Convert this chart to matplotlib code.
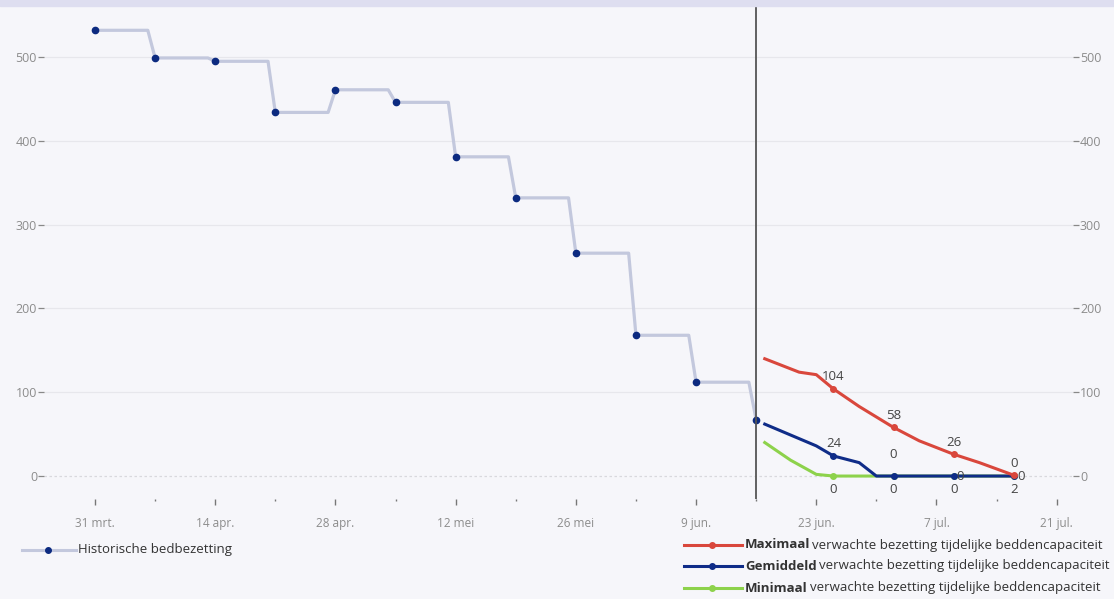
import numpy as np
import matplotlib
matplotlib.use("Agg")
import matplotlib.pyplot as plt
import matplotlib.dates as mdates
from matplotlib.lines import Line2D
from matplotlib.patches import Rectangle
from datetime import datetime, timedelta

# historical occupancy, weekly
hist_dates = ["2020-03-31", "2020-04-07", "2020-04-14", "2020-04-21", "2020-04-28", "2020-05-05",
              "2020-05-12", "2020-05-19", "2020-05-26", "2020-06-02", "2020-06-09", "2020-06-16"]
hist_values = [532, 499, 495, 434, 461, 446, 381, 332, 266, 168, 112, 67]

# forecasts
max_dates = ["2020-06-17", "2020-06-21", "2020-06-23", "2020-06-25", "2020-06-28", "2020-07-02",
             "2020-07-05", "2020-07-09", "2020-07-12", "2020-07-16"]
max_values = [140, 124, 121, 104, 83, 58, 42, 26, 16, 1]
avg_dates = ["2020-06-17", "2020-06-20", "2020-06-23", "2020-06-25", "2020-06-28", "2020-06-30",
             "2020-07-02", "2020-07-09", "2020-07-16"]
avg_values = [62, 49, 36, 24, 16, 0, 0, 0, 0]
min_dates = ["2020-06-17", "2020-06-20", "2020-06-23", "2020-06-25", "2020-07-02", "2020-07-09",
             "2020-07-16"]
min_values = [40, 19, 2, 0, 0, 0, 0]

label_dates = ["2020-06-25", "2020-07-02", "2020-07-09", "2020-07-16"]
max_labels = ["104", "58", "26", "0"]
avg_labels = ["24", "0", "0", "0"]
min_labels = ["0", "0", "0", "2"]

tick_dates = ["2020-03-31", "2020-04-14", "2020-04-28", "2020-05-12", "2020-05-26",
              "2020-06-09", "2020-06-23", "2020-07-07", "2020-07-21"]
tick_labels = ["31 mrt.", "14 apr.", "28 apr.", "12 mei", "26 mei", "9 jun.", "23 jun.", "7 jul.", "21 jul."]
y_ticks = [0, 100, 200, 300, 400, 500]

BG = "#f6f6fa"
HIST = "#c3c8dd"
NAVY = "#0c2a80"
RED = "#d9473c"
BLUE = "#0f2c88"
GREEN = "#8dd24b"
TXT = "#8c8c8c"

plt.rcParams["font.family"] = ["Open Sans", "DejaVu Sans"]


def d(s):
    return mdates.date2num(datetime.strptime(s, "%Y-%m-%d"))


W, H = 1114, 599
fig = plt.figure(figsize=(W / 100, H / 100), dpi=100, facecolor=BG)
fig.patches.append(Rectangle((0, 1 - 6 / H), 1, 6 / H, transform=fig.transFigure,
                             color="#dedef0", zorder=0))
ax = fig.add_axes([44 / W, (H - 499) / H, (1073 - 44) / W, (499 - 6) / H])
ax.set_facecolor(BG)
for sp in ax.spines.values():
    sp.set_visible(False)

base = datetime(2020, 3, 31)
ax.set_xlim(mdates.date2num(base - timedelta(days=5.94)), mdates.date2num(base + timedelta(days=113.9)))
ax.set_ylim(-27.4, 561)

# grid
for v in y_ticks[1:]:
    ax.axhline(v, color="#e7e7ec", lw=0.9, zorder=0)
ax.axhline(0, color="#d8d8dd", lw=0.9, ls=(0, (2, 2)), zorder=0)

# historical step-like line
hx = [d(s) for s in hist_dates]
px, py = [], []
for i in range(len(hx) - 1):
    px += [hx[i], hx[i + 1] - 0.85]
    py += [hist_values[i], hist_values[i]]
px.append(hx[-1])
py.append(hist_values[-1])
ax.plot(px, py, color=HIST, lw=2.3, solid_joinstyle="round", zorder=2)
ax.plot(hx, hist_values, "o", color=NAVY, ms=4.5, zorder=3)

ax.axvline(d("2020-06-16"), color="#555555", lw=1.3, zorder=4)

# forecasts
for dates, vals, col in [(min_dates, min_values, GREEN), (avg_dates, avg_values, BLUE),
                         (max_dates, max_values, RED)]:
    xs = [d(s) for s in dates]
    idx = [dates.index(s) for s in label_dates]
    ax.plot(xs, vals, color=col, lw=2.2, marker="o", ms=4, markevery=idx, zorder=3)

# value labels
lab_kw = dict(fontsize=9.5, color="#444444", textcoords="offset points", ha="center")
for i, s in enumerate(label_dates):
    x = d(s)
    yv = max_values[max_dates.index(s)]
    ax.annotate(max_labels[i], (x, yv), xytext=(0, 4), va="bottom", **lab_kw)
    ya = avg_values[avg_dates.index(s)]
    if i < 2:
        ax.annotate(avg_labels[i], (x, ya), xytext=(0, 4 if i == 0 else 11), va="bottom", **lab_kw)
    else:
        ax.annotate(avg_labels[i], (x, ya), xytext=(5, -0.5), va="center", **lab_kw)
    ym = min_values[min_dates.index(s)]
    ax.annotate(min_labels[i], (x, ym), xytext=(0, -5), va="top", **lab_kw)

# ticks
ax.set_xticks([d(s) for s in tick_dates])
ax.set_xticklabels(tick_labels)
ax.set_xticks([d(s) + 7 for s in tick_dates[:-1]], minor=True)
ax.set_yticks(y_ticks)
ax.tick_params(axis="x", which="major", length=4, width=1, color="#777777", labelsize=8.5,
               labelcolor=TXT, pad=9)
ax.tick_params(axis="x", which="minor", length=1.5, width=1, color="#777777")
ax.tick_params(axis="y", length=4, width=0.9, color="#888888", labelsize=9, labelcolor=TXT,
               left=True, right=True, labelleft=True, labelright=True, pad=1)


# legends
def fx(x):
    return x / W


def fy(y):
    return (H - y) / H


def legend_row(x0, x1, xm, xt, y, col, mcol, bold, rest):
    fig.add_artist(Line2D([fx(x0), fx(x1)], [fy(y), fy(y)], color=col, lw=2.2,
                          transform=fig.transFigure))
    fig.add_artist(Line2D([fx(xm)], [fy(y)], color=mcol, marker="o", ms=4,
                          transform=fig.transFigure))
    t = fig.text(fx(xt), fy(y), bold, fontsize=9.5, fontweight="bold", color="#333333", va="center")
    if rest:
        fig.canvas.draw()
        bb = t.get_window_extent(renderer=fig.canvas.get_renderer())
        fig.text(bb.x1 / W + 2 / W, fy(y), rest, fontsize=9.5, color="#333333", va="center")


legend_row(22, 76, 48, 78, 550, HIST, NAVY, "", "")
fig.text(fx(78), fy(550), "Historische bedbezetting", fontsize=9.5, color="#333333", va="center")
rest = "verwachte bezetting tijdelijke beddencapaciteit"
legend_row(684, 742, 712, 745, 545, RED, RED, "Maximaal", rest)
legend_row(684, 742, 712, 745, 566, BLUE, BLUE, "Gemiddeld", rest)
legend_row(684, 742, 712, 745, 588, GREEN, GREEN, "Minimaal", rest)

fig.savefig("out.png", dpi=100, facecolor=BG)
